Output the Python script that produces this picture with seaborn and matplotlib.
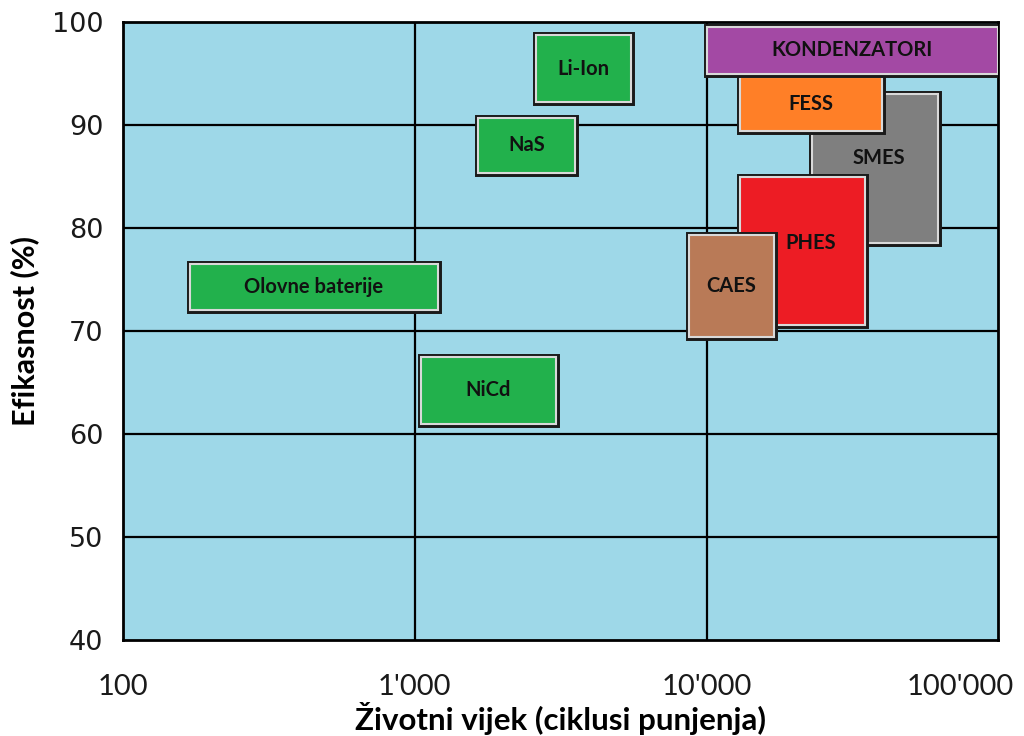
import matplotlib
matplotlib.use('Agg')
import matplotlib.pyplot as plt
import matplotlib.patheffects as pe
import matplotlib.transforms as mtransforms
from matplotlib.ticker import FixedLocator, FixedFormatter, NullLocator
import seaborn as sns
import numpy as np
import pandas as pd

# Tehnologije pohrane energije: raspon životnog vijeka (ciklusi) i efikasnosti (%)
tehnologije = ['SMES', 'PHES', 'CAES', 'FESS', 'KONDENZATORI',
               'Li-Ion', 'NaS', 'Olovne baterije', 'NiCd']
ciklusi_min = [23000, 13000, 8700, 13000, 10000, 2600, 1650, 170, 1050]
ciklusi_max = [62000, 35000, 17000, 40000, 100000, 5500, 3550, 1200, 3050]
efik_min = [78.6, 70.6, 69.4, 89.4, 95.0, 92.2, 85.4, 72.1, 61.0]
efik_max = [93.0, 85.0, 79.3, 94.7, 99.5, 98.7, 90.7, 76.5, 67.5]
boje = ['#7f7f7f', '#ed1c24', '#b97a57', '#ff7f27', '#a349a4',
        '#22b14c', '#22b14c', '#22b14c', '#22b14c']

x_ticks = [100, 1000, 10000, 100000]
x_labels = ['100', "1'000", "10'000", "100'000"]
y_ticks = [40, 50, 60, 70, 80, 90, 100]

df = pd.DataFrame({'tehnologija': tehnologije, 'x0': ciklusi_min, 'x1': ciklusi_max,
                   'y0': efik_min, 'y1': efik_max, 'boja': boje})

sns.set_style('white')
plt.rcParams['font.family'] = ['Lato', 'DejaVu Sans']
plt.rcParams['text.color'] = 'black'
plt.rcParams['axes.labelcolor'] = 'black'

fig = plt.figure(figsize=(10.24, 7.36), dpi=100)
ax = fig.add_axes([0.120, 0.130, 0.855, 0.840])
ax.set_facecolor('#9ed8e8')
ax.set_xscale('log')
ax.set_xlim(100, 100000)
ax.set_ylim(40, 100)

# mreža
for v in [1000, 10000]:
    ax.axvline(v, color='black', lw=1.6, zorder=1)
for v in [50, 60, 70, 80, 90]:
    ax.axhline(v, color='black', lw=1.6, zorder=1)

# oznake koje su zaklonjene susjednim pravokutnikom malo se pomaknu (faktor x, pomak y)
pomak = {'SMES': (1.03, 1.0), 'PHES': (1.07, 0.8)}

# pravokutnici
for i, r in df.iterrows():
    bars = ax.bar(r['x0'], r['y1'] - r['y0'], width=r['x1'] - r['x0'], bottom=r['y0'],
                  align='edge', color=r['boja'], edgecolor='#d9d9d9', linewidth=1.5,
                  zorder=3 + i)
    for b in bars:
        b.set_path_effects([pe.Stroke(linewidth=5, foreground='#1a1a1a'), pe.Normal()])
    fx, dy = pomak.get(r['tehnologija'], (1.0, 0.0))
    xc = np.sqrt(r['x0'] * r['x1']) * fx
    yc = (r['y0'] + r['y1']) / 2 + dy
    ax.text(xc, yc, r['tehnologija'], ha='center', va='center', fontsize=14.5,
            fontweight='bold', color='#111111', zorder=20)

ax.xaxis.set_major_locator(FixedLocator(x_ticks))
ax.xaxis.set_major_formatter(FixedFormatter(x_labels))
ax.xaxis.set_minor_locator(NullLocator())
ax.set_yticks(y_ticks)
ax.tick_params(axis='x', labelsize=21, pad=24, length=0, labelcolor='#1a1a1a')
ax.tick_params(axis='y', length=0, pad=14, labelcolor='#1a1a1a')
for t in ax.get_yticklabels():
    t.set_fontfamily('DejaVu Sans')
    t.set_fontsize(19.5)
xt = ax.get_xticklabels()
# zadnja oznaka pomaknuta ulijevo da stane u sliku
xt[-1].set_transform(xt[-1].get_transform() +
                     mtransforms.ScaledTranslation(-0.38, 0, fig.dpi_scale_trans))

for s in ax.spines.values():
    s.set_color('black')
    s.set_linewidth(2)

ax.set_xlabel('Životni vijek (ciklusi punjenja)', fontsize=22.5, fontweight='bold')
ax.set_ylabel('Efikasnost (%)', fontsize=22, fontweight='bold')
ax.xaxis.set_label_coords(0.5, -0.126)
ax.xaxis.label.set_va('center')
ax.yaxis.set_label_coords(-0.112, 0.5)
ax.yaxis.label.set_va('center')

fig.savefig('out.png', dpi=100)
